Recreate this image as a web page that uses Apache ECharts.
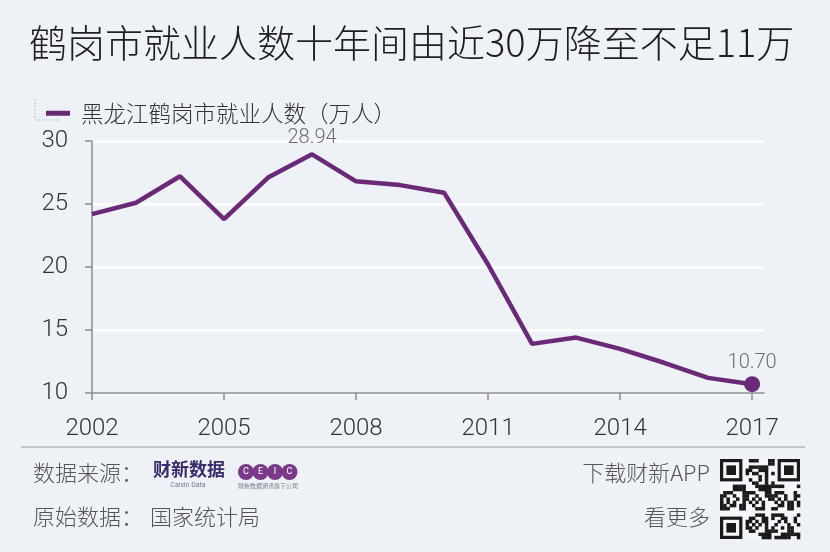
<!DOCTYPE html>
<html>
<head>
<meta charset="utf-8">
<script src="https://cdn.jsdelivr.net/npm/echarts@6/dist/echarts.min.js"></script>
<style>
html,body{margin:0;padding:0;background:#eef1f6;}
#chart{width:830px;height:552px;}
</style>
</head>
<body>
<div id="chart"></div>
<script>
const years = [2002, 2003, 2004, 2005, 2006, 2007, 2008, 2009, 2010, 2011, 2012, 2013, 2014, 2015, 2016, 2017];
const employed = [24.2, 25.1, 27.2, 23.8, 27.1, 28.94, 26.8, 26.5, 25.9, 20.2, 13.9, 14.4, 13.5, 12.4, 11.2, 10.70];
const xTickLabels = [2002, 2005, 2008, 2011, 2014, 2017];
const yTicks = [10, 15, 20, 25, 30];
const labeledYears = [2007, 2017];
const seriesName = '黑龙江鹤岗市就业人数（万人）';
const titleText = '鹤岗市就业人数十年间由近30万降至不足11万';

const purple = '#6a2a78';
const cjk = '"Noto Sans CJK SC", "Noto Sans", sans-serif';
const num = 'Roboto, "Liberation Sans", sans-serif';

const seriesData = years.map((y, i) => {
  const item = { value: [y, employed[i]] };
  if (labeledYears.includes(y)) {
    item.label = {
      show: true, position: 'top', distance: y === 2017 ? 3 : 6,
      formatter: p => p.value[1].toFixed(2),
      color: '#6e6e6e', fontSize: 20, fontFamily: num, fontWeight: 300
    };
  }
  if (y === years[years.length - 1]) {
    item.symbolSize = 16;
  }
  return item;
});

// decorative QR-like block
const qr = [];
const qx = 720, qy = 459, qs = 80, n = 25, m = qs / n;
qr.push({ type: 'rect', shape: { x: qx, y: qy, width: qs, height: qs }, style: { fill: '#f4f6f9' } });
for (let i = 0; i < n; i++) {
  for (let j = 0; j < n; j++) {
    const inFinder = (i < 8 && j < 8) || (i < 8 && j >= n - 8) || (i >= n - 8 && j < 8);
    if (inFinder) continue;
    const h = (i * 31 + j * 17 + i * j * 7 + (i ^ j) * 3) % 11;
    if (h < 5) {
      qr.push({ type: 'rect', shape: { x: qx + j * m, y: qy + i * m, width: m + 0.3, height: m + 0.3 }, style: { fill: '#1a1a1a' } });
    }
  }
}
[[0, 0], [0, n - 7], [n - 7, 0]].forEach(([r, c]) => {
  qr.push({ type: 'rect', shape: { x: qx + c * m, y: qy + r * m, width: 7 * m, height: 7 * m }, style: { fill: '#1a1a1a' } });
  qr.push({ type: 'rect', shape: { x: qx + (c + 1) * m, y: qy + (r + 1) * m, width: 5 * m, height: 5 * m }, style: { fill: '#f4f6f9' } });
  qr.push({ type: 'rect', shape: { x: qx + (c + 2) * m, y: qy + (r + 2) * m, width: 3 * m, height: 3 * m }, style: { fill: '#1a1a1a' } });
});

const ceic = ['C', 'E', 'I', 'C'];
const ceicEls = [];
ceic.forEach((ch, k) => {
  const cx = 246 + k * 14.5;
  ceicEls.push({ type: 'circle', shape: { cx: cx, cy: 472, r: 8 }, style: { fill: '#7a3a88' } });
  ceicEls.push({ type: 'text', style: { text: ch, x: cx, y: 472, fill: '#ffffff', font: '9px ' + num, align: 'center', verticalAlign: 'middle' } });
});

const chart = echarts.init(document.getElementById('chart'));
chart.setOption({
  backgroundColor: '#eef1f6',
  animation: false,
  title: {
    text: titleText, left: 24, top: 19,
    textStyle: { fontFamily: cjk, fontSize: 38, fontWeight: 300, color: '#1e1e1e' }
  },
  legend: {
    left: 41, top: 97, itemWidth: 24, itemHeight: 5, icon: 'rect',
    data: [{ name: seriesName, icon: 'rect' }],
    textStyle: { fontFamily: cjk, fontSize: 22.5, fontWeight: 300, color: '#333', padding: [0, 0, 0, 6] }
  },
  grid: { left: 92, right: 66, top: 141, bottom: 159, containLabel: false },
  xAxis: {
    type: 'value', min: 2002, max: 2017.27,
    axisLine: { show: true, lineStyle: { color: '#8c8c8c', width: 1.5 } },
    axisTick: { show: true, customValues: xTickLabels, length: 7, lineStyle: { color: '#8c8c8c', width: 1.5 } },
    axisLabel: { customValues: xTickLabels, margin: 24, fontSize: 24, fontFamily: num, fontWeight: 300, color: '#333', formatter: v => String(v) },
    splitLine: { show: false }
  },
  yAxis: {
    type: 'value', min: 10, max: 30, interval: 5,
    axisLine: { show: true, lineStyle: { color: '#8c8c8c', width: 1.5 } },
    axisTick: { show: true, inside: false, length: 7, lineStyle: { color: '#8c8c8c', width: 1.5 } },
    axisLabel: { margin: 24, fontSize: 24, fontFamily: num, fontWeight: 300, color: '#333', customValues: yTicks },
    splitLine: { show: true, lineStyle: { color: '#ffffff', width: 2.5 } }
  },
  series: [{
    name: seriesName, type: 'line', data: seriesData,
    showSymbol: true, symbol: 'circle', symbolSize: 0,
    lineStyle: { color: purple, width: 4.5 },
    itemStyle: { color: purple },
    z: 3
  }],
  graphic: [
    { type: 'polyline', shape: { points: [[35, 99], [35, 120], [60, 120]] }, style: { stroke: '#b0b0b8', lineWidth: 1, lineDash: [1.5, 2], fill: null } },
    { type: 'line', shape: { x1: 21, y1: 447, x2: 805, y2: 447 }, style: { stroke: '#9a9a9a', lineWidth: 1 } },
    { type: 'text', style: { text: '数据来源：', x: 33, y: 473, fill: '#555', font: '300 22px ' + cjk, verticalAlign: 'middle' } },
    { type: 'text', style: { text: '原始数据：', x: 33, y: 517, fill: '#555', font: '300 22px ' + cjk, verticalAlign: 'middle' } },
    { type: 'text', style: { text: '国家统计局', x: 150, y: 517, fill: '#555', font: '300 22px ' + cjk, verticalAlign: 'middle' } },
    { type: 'text', style: { text: '财新数据', x: 153, y: 469, fill: '#3a2c6a', font: 'bold 18px ' + cjk, verticalAlign: 'middle' } },
    { type: 'text', style: { text: 'Caixin Data', x: 188, y: 485, fill: '#7a7a8a', font: '7px ' + num, align: 'center', verticalAlign: 'middle' } },
    { type: 'text', style: { text: '财新数据通讯旗下公司', x: 268, y: 486, fill: '#7a7a8a', font: '6px ' + cjk, align: 'center', verticalAlign: 'middle' } },
    ...ceicEls,
    { type: 'text', style: { text: '下载财新APP', x: 710, y: 473, fill: '#555', font: '300 22px ' + cjk, align: 'right', verticalAlign: 'middle' } },
    { type: 'text', style: { text: '看更多', x: 710, y: 517, fill: '#555', font: '300 22px ' + cjk, align: 'right', verticalAlign: 'middle' } },
    ...qr
  ]
});
</script>
</body>
</html>
